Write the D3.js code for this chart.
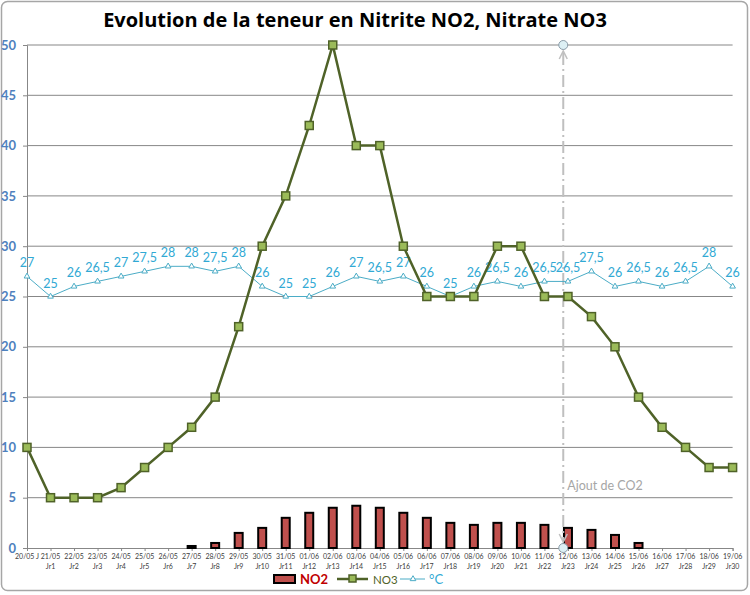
<!DOCTYPE html>
<html><head><meta charset="utf-8">
<script src="https://cdn.jsdelivr.net/npm/d3@7"></script>
<style>body{margin:0;background:#fff;}svg{display:block;}</style>
</head><body>
<script>
const dates = ["20/05","21/05","22/05","23/05","24/05","25/05","26/05","27/05","28/05","29/05","30/05","31/05","01/06","02/06","03/06","04/06","05/06","06/06","07/06","08/06","09/06","10/06","11/06","12/06","13/06","14/06","15/06","16/06","17/06","18/06","19/06"];
const days = ["J","Jr1","Jr2","Jr3","Jr4","Jr5","Jr6","Jr7","Jr8","Jr9","Jr10","Jr11","Jr12","Jr13","Jr14","Jr15","Jr16","Jr17","Jr18","Jr19","Jr20","Jr21","Jr22","Jr23","Jr24","Jr25","Jr26","Jr27","Jr28","Jr29","Jr30"];
const no2 = [null,null,null,null,null,null,null,0.2,0.5,1.5,2,3,3.5,4,4.2,4,3.5,3,2.5,2.3,2.5,2.5,2.3,2,1.8,1.3,0.5,null,null,null,null];
const no3 = [10,5,5,5,6,8,10,12,15,22,30,35,42,50,40,40,30,25,25,25,30,30,25,25,23,20,15,12,10,8,8];
const temp = [27,25,26,26.5,27,27.5,28,28,27.5,28,26,25,25,26,27,26.5,27,26,25,26,26.5,26,26.5,26.5,27.5,26,26.5,26,26.5,28,26];
const yTicks = [0,5,10,15,20,25,30,35,40,45,50];
const title = "Evolution de la teneur en Nitrite NO2, Nitrate NO3";
const annotation = "Ajout de CO2";
const annotationIndex = 22.8;

const W = 750, H = 595;
const svg = d3.select("body").append("svg").attr("width", W).attr("height", H);
const font = "Lato, 'Open Sans', sans-serif";

svg.append("rect").attr("x",1.5).attr("y",1.5).attr("width",W-4).attr("height",H-6).attr("rx",6)
  .attr("fill","#fff").attr("stroke","#A6A6A6").attr("stroke-width",1.5);

const x = d3.scaleLinear().domain([0, dates.length-1]).range([27, 732.6]);
const y = d3.scaleLinear().domain([0,50]).range([548, 45]);

// title
svg.append("text").attr("x",355).attr("y",27).attr("text-anchor","middle")
  .attr("font-family","'Open Sans', sans-serif").attr("font-weight","bold").attr("font-size",20)
  .attr("fill","#000").text(title);

// gridlines
svg.append("g").selectAll("line").data(yTicks.filter(d=>d>0)).join("line")
  .attr("x1",27).attr("x2",732.6).attr("y1",d=>y(d)).attr("y2",d=>y(d))
  .attr("stroke","#878787").attr("stroke-width",1);

// y axis
const yAxis = svg.append("g").attr("transform","translate(27,0)")
  .call(d3.axisLeft(y).tickValues(yTicks).tickSize(4).tickFormat(d3.format("d")));
yAxis.select(".domain").attr("stroke","#878787");
yAxis.selectAll(".tick line").attr("stroke","#878787");
yAxis.selectAll(".tick text").attr("x",-11).attr("font-family",font).attr("font-size",13)
  .attr("font-weight","bold").attr("fill","#4F81BD");

// x axis
const xAxis = svg.append("g").attr("transform","translate(0,548)")
  .call(d3.axisBottom(x).tickValues(d3.range(dates.length)).tickSize(3).tickFormat(""));
xAxis.select(".domain").attr("stroke","#878787");
xAxis.selectAll(".tick line").attr("stroke","#878787");
const xl = svg.append("g").attr("font-family",font).attr("font-size",7).attr("fill","#404040").attr("text-anchor","middle");
xl.selectAll("text.d").data(dates).join("text").attr("class","d")
  .attr("x",(d,i)=>x(i)).attr("y",559).text((d,i)=> i===0 ? d+" "+days[0] : d);
xl.selectAll("text.j").data(days).join("text").attr("class","j")
  .attr("x",(d,i)=>x(i)).attr("y",569).text((d,i)=> i===0 ? "" : d);

// NO2 bars
const bw = 8;
svg.append("g").selectAll("rect").data(no2.map((v,i)=>({v,i})).filter(d=>d.v!=null)).join("rect")
  .attr("x",d=>x(d.i)-bw/2).attr("y",d=>y(d.v)).attr("width",bw).attr("height",d=>y(0)-y(d.v))
  .attr("fill","#C0504D").attr("stroke","#000").attr("stroke-width",2);

// annotation
const ax = x(annotationIndex);
svg.append("line").attr("x1",ax).attr("x2",ax).attr("y1",y(50)+8).attr("y2",y(0)-8)
  .attr("stroke","#BFBFBF").attr("stroke-width",2).attr("stroke-dasharray","12,4,2,4");
[[y(50), 1],[y(0), -1]].forEach(([cy,dir])=>{
  svg.append("path").attr("d",`M${ax-4},${cy+dir*14} L${ax},${cy+dir*6} L${ax+4},${cy+dir*14}`)
    .attr("fill","none").attr("stroke","#BFBFBF").attr("stroke-width",1.5);
  svg.append("circle").attr("cx",ax).attr("cy",cy).attr("r",4.5)
    .attr("fill","#DDF0F5").attr("stroke","#8A9BA8").attr("stroke-width",1);
});
svg.append("text").attr("x",ax+4).attr("y",y(5.8)).attr("font-family",font).attr("font-size",12.5)
  .attr("fill","#A6A6A6").text(annotation);

// temperature line
const tColor = "#4BACC6";
svg.append("path").datum(temp).attr("d",d3.line().x((d,i)=>x(i)).y(d=>y(d)))
  .attr("fill","none").attr("stroke",tColor).attr("stroke-width",1);
const tri = d3.symbol().type(d3.symbolTriangle).size(14);
svg.append("g").selectAll("path").data(temp).join("path")
  .attr("transform",(d,i)=>`translate(${x(i)},${y(d)})`).attr("d",tri)
  .attr("fill","#fff").attr("stroke",tColor).attr("stroke-width",1);
svg.append("g").selectAll("text").data(temp).join("text")
  .attr("x",(d,i)=>x(i)).attr("y",d=>y(d)-9).attr("text-anchor","middle")
  .attr("font-family",font).attr("font-size",12.5).attr("fill","#31A9D4")
  .text(d=>String(d).replace(".",","));

// NO3 line
const nColor = "#4F6228";
svg.append("path").datum(no3).attr("d",d3.line().x((d,i)=>x(i)).y(d=>y(d)))
  .attr("fill","none").attr("stroke",nColor).attr("stroke-width",2.5);
svg.append("g").selectAll("rect").data(no3).join("rect")
  .attr("x",(d,i)=>x(i)-4).attr("y",d=>y(d)-4).attr("width",8).attr("height",8)
  .attr("fill","#9BBB59").attr("stroke",nColor).attr("stroke-width",1.5);

// legend
const lg = svg.append("g").attr("font-family",font).attr("font-size",13);
lg.append("rect").attr("x",274).attr("y",575).attr("width",21).attr("height",8)
  .attr("fill","#C0504D").attr("stroke","#000").attr("stroke-width",2);
lg.append("text").attr("x",300).attr("y",584).attr("font-weight","bold").attr("fill","#C00000").text("NO2");
lg.append("line").attr("x1",337).attr("x2",368).attr("y1",579).attr("y2",579).attr("stroke",nColor).attr("stroke-width",2.5);
lg.append("rect").attr("x",349).attr("y",575).attr("width",7).attr("height",7).attr("fill","#9BBB59").attr("stroke",nColor).attr("stroke-width",1.5);
lg.append("text").attr("x",373).attr("y",584).attr("font-size",11.5).attr("fill","#4F6228").text("NO3");
lg.append("line").attr("x1",400).attr("x2",425).attr("y1",579).attr("y2",579).attr("stroke",tColor).attr("stroke-width",1);
lg.append("path").attr("transform","translate(413,579)").attr("d",tri).attr("fill","#fff").attr("stroke",tColor);
lg.append("text").attr("x",429).attr("y",584).attr("fill","#31A9D4").text("°C");
</script>
</body></html>
